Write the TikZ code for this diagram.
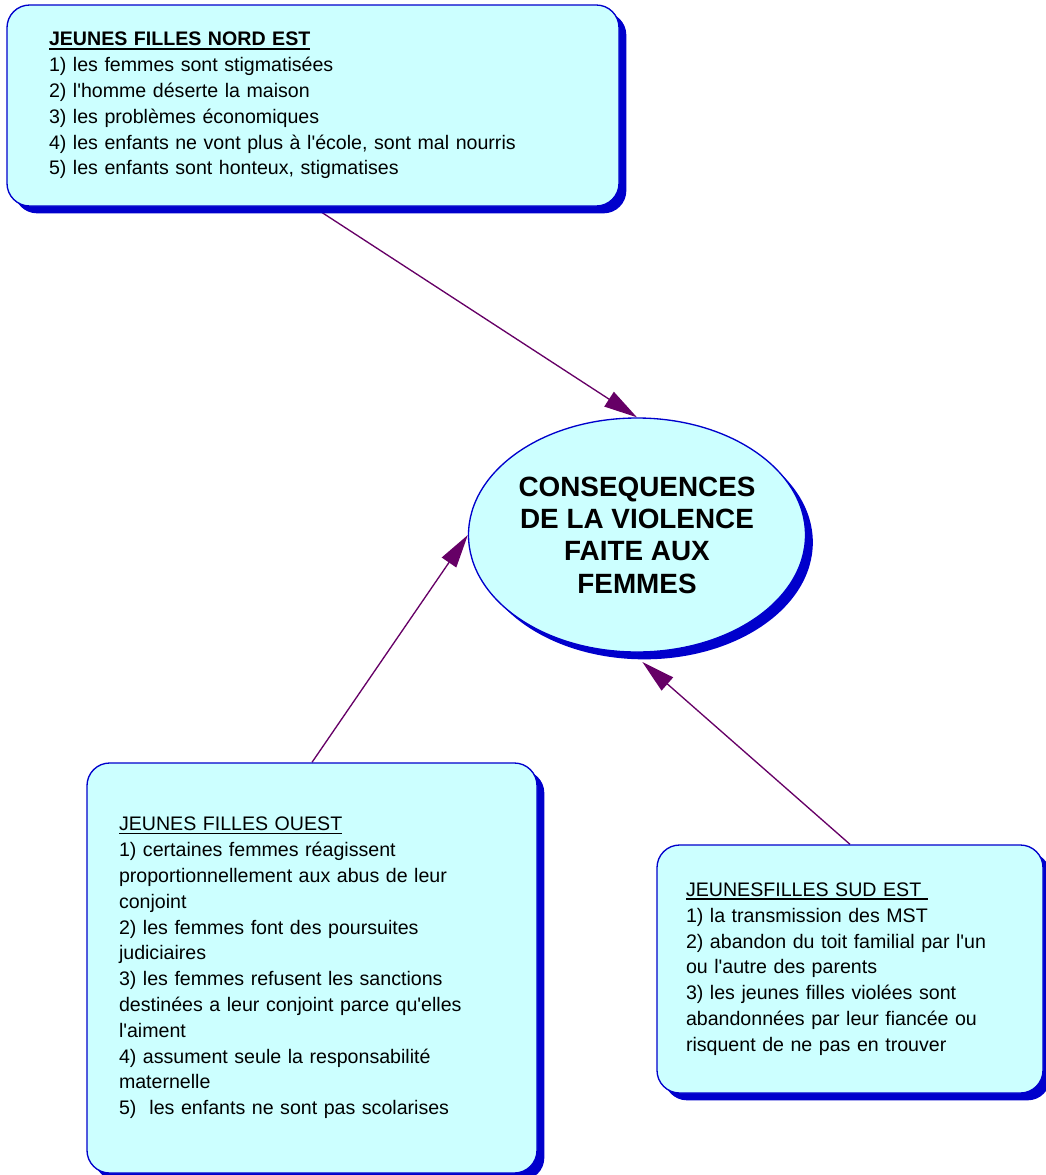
\documentclass[tikz,border=0pt]{standalone}
\usepackage{fontspec}
\setmainfont{Liberation Sans}
\usetikzlibrary{shapes.geometric,shadows,arrows.meta,backgrounds}
\definecolor{fondcyan}{RGB}{204,255,255}
\definecolor{bordbleu}{RGB}{0,0,204}
\definecolor{flechepourpre}{RGB}{102,0,102}
\newcommand{\apost}{\textquotesingle}
\newcommand{\souligne}[2][1.1pt]{\leavevmode\setbox0\hbox{#2}\rlap{\vrule height -1.4pt depth \dimexpr1.4pt+#1\relax width \wd0}\box0}
\tikzset{
  ombre/.style={drop shadow={shadow xshift=5.5pt, shadow yshift=-5.5pt, fill=bordbleu, opacity=1}},
  boite/.style={draw=bordbleu, fill=fondcyan, line width=1pt, rounded corners=17pt, align=left, ombre, font=\fontsize{14.7}{19.35}\selectfont},
  centre/.style={ellipse, draw=bordbleu, fill=fondcyan, line width=1pt, align=center, inner sep=0pt, ombre, font=\fontsize{20.9}{24.2}\selectfont\bfseries},
  fleche/.style={draw=flechepourpre, line width=1pt, -{Triangle[length=25pt,width=13pt]}}
}
\begin{document}
\begin{tikzpicture}[x=0.75pt, y=-0.75pt]
  \useasboundingbox (0,0) rectangle (1046,1175);
  \node[boite, text width=396pt, inner xsep=31.5pt, minimum height=150.75pt] (nord) at (313,105.5)
    {\souligne[1.8pt]{\textbf{JEUNES FILLES NORD EST}}\\
     1) les femmes sont stigmatisées\\
     2) l\apost homme déserte la maison\\
     3) les problèmes économiques\\
     4) les enfants ne vont plus à l\apost école, sont mal nourris\\
     5) les enfants sont honteux, stigmatises};
  \node[centre, minimum width=252.75pt, minimum height=175.5pt] (cons) at (637,535)
    {CONSEQUENCES\\ DE LA VIOLENCE\\ FAITE AUX\\ FEMMES};
  \node[boite, text width=289.5pt, inner xsep=24pt, minimum height=307.5pt] (ouest) at (312,968)
    {\souligne{JEUNES FILLES OUEST}\\
     1) certaines femmes réagissent\\
     proportionnellement aux abus de leur\\
     conjoint\\
     2) les femmes font des poursuites\\
     judiciaires\\
     3) les femmes refusent les sanctions\\
     destinées a leur conjoint parce qu\apost elles\\
     l\apost aiment\\
     4) assument seule la responsabilité\\
     maternelle\\
     5)~ les enfants ne sont pas scolarises};
  \node[boite, text width=246pt, inner xsep=21.75pt, minimum height=186pt] (sud) at (850,969)
    {\souligne{JEUNESFILLES SUD EST\ }\\
     1) la transmission des MST\\
     2) abandon du toit familial par l\apost un\\
     ou l\apost autre des parents\\
     3) les jeunes filles violées sont\\
     abandonnées par leur fiancée ou\\
     risquent de ne pas en trouver};
  \coordinate (consbas) at ([xshift=4pt,yshift=-7pt]cons.south);
  \begin{scope}[on background layer]
    \draw[fleche] (nord.south) -- (cons.north);
    \draw[fleche] (ouest.north) -- (cons.west);
    \draw[fleche] (sud.north) -- (consbas);
  \end{scope}
\end{tikzpicture}
\end{document}
